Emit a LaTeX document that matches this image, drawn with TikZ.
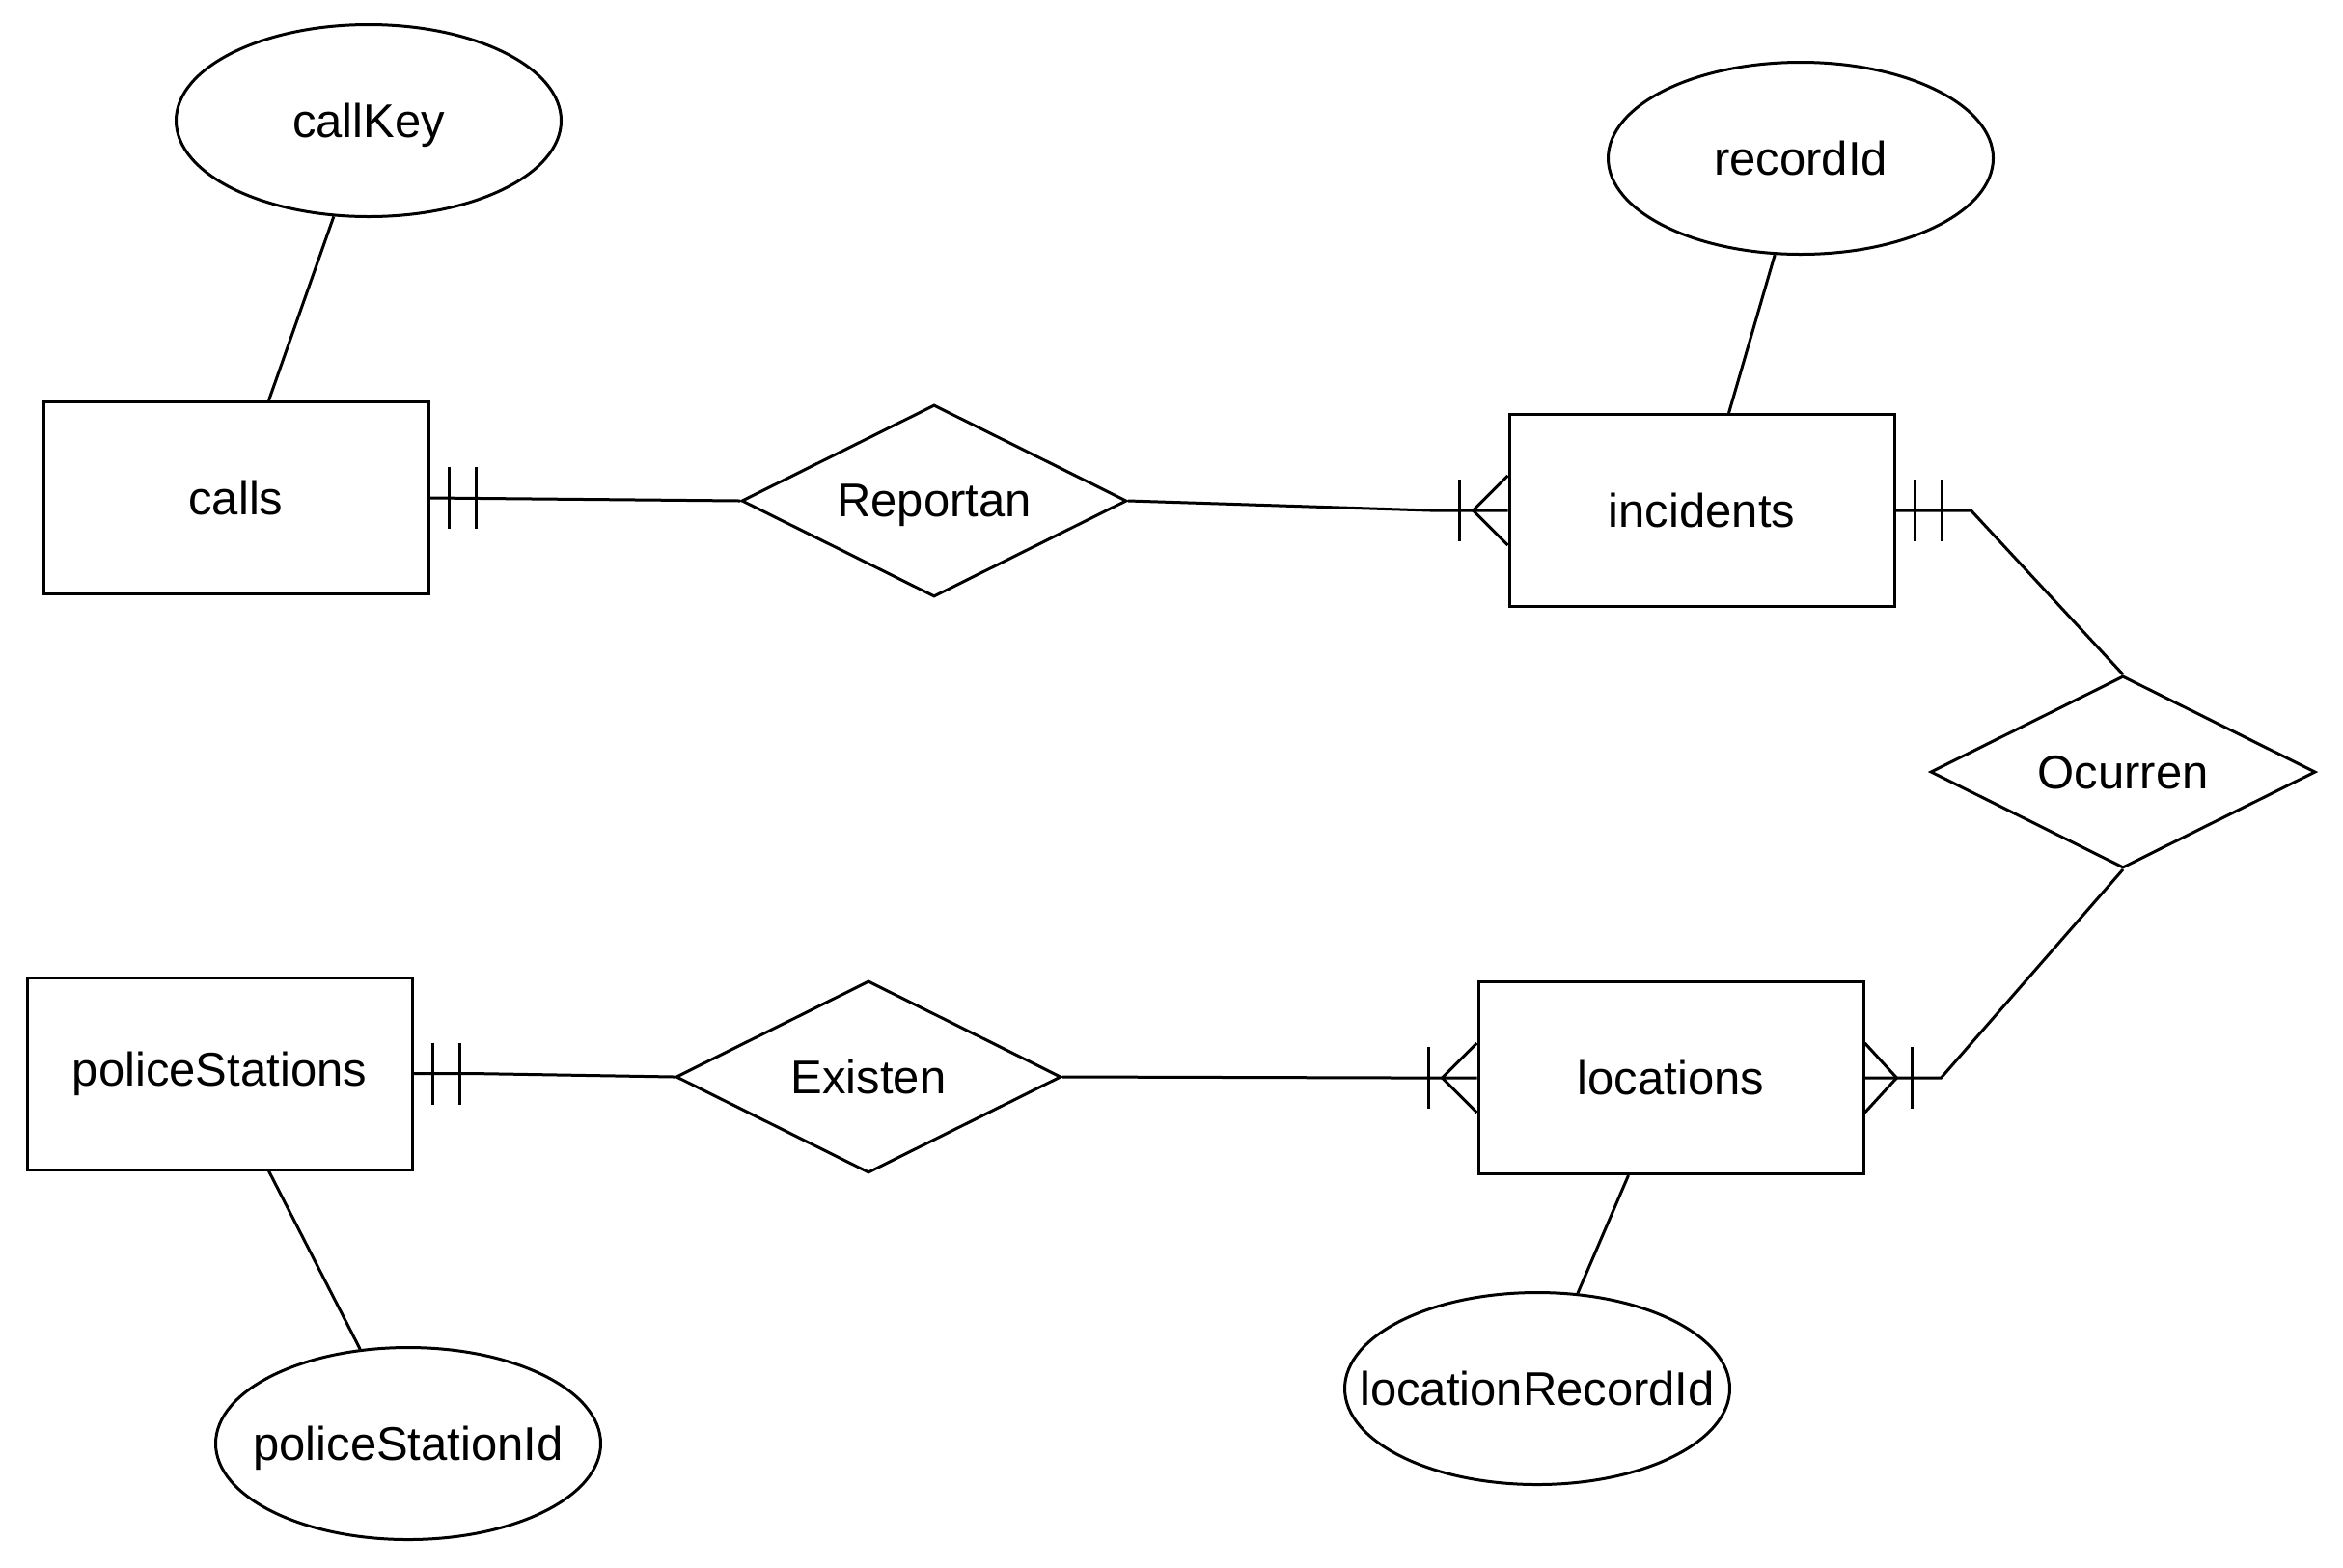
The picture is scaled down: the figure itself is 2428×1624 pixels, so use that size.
\documentclass[tikz,border=0pt]{standalone}
\usepackage{fontspec}
\setmainfont{Liberation Sans}
\usetikzlibrary{shapes.geometric,calc}
\begin{document}
\begin{tikzpicture}[x=0.5pt,y=-0.5pt,line width=1.5pt,
  every node/.style={font=\fontsize{24.5}{29}\selectfont},
  entity/.style={draw,rectangle,minimum width=199.5pt,minimum height=99.5pt,inner sep=0pt},
  attr/.style={draw,ellipse,minimum width=199.5pt,minimum height=99.5pt,inner sep=0pt,text depth=0pt},
  rel/.style={draw,diamond,aspect=2,minimum width=199.5pt,minimum height=99.5pt,inner sep=0pt,text depth=0pt}]
\fill[white] (0,0) rectangle (2428,1624);
\useasboundingbox (0,0) rectangle (2428,1624);

% entities
\node[entity] (calls) at (244.5,516) {calls};
\node[entity] (incidents) at (1763.5,529) {incidents};
\node[entity] (policeStations) at (227.5,1112.5) {policeStations};
\node[entity] (locations) at (1731.5,1117) {locations};

% relationships
\node[rel] (Reportan) at (968,519) {\makebox[0pt]{Reportan}};
\node[rel] (Ocurren) at (2200,800) {\makebox[0pt]{Ocurren}};
\node[rel] (Existen) at (900,1116) {\makebox[0pt]{Existen}};

% attributes (fixed-size ellipses, labels may overhang the inner box)
\node[attr] (callKey) at (382,125) {\makebox[0pt]{callKey}};
\node[attr] (recordId) at (1866,164) {\makebox[0pt]{recordId}};
\node[attr] (policeStationId) at (423,1496) {\makebox[0pt]{policeStationId}};
\node[attr] (locationRecordId) at (1593,1439) {\makebox[0pt]{locationRecordId}};

% attribute links
\draw (callKey.250) -- ($(calls.north)+(34,0)$);
\draw (recordId.255) -- ($(incidents.north)+(28,0)$);
\draw (policeStationId.117) -- ($(policeStations.south)+(51,0)$);
\draw (locationRecordId.67) -- ($(locations.south)+(-44,0)$);

% relationship links
\draw (calls.east) -- (Reportan.west);
\draw (Reportan.east) -- ($(incidents.west)+(-80,0)$) -- (incidents.west);
\draw (incidents.east) -- ($(incidents.east)+(78,0)$) coordinate (incBend) -- (Ocurren.north);
\draw (Ocurren.south) -- ($(locations.east)+(79,0)$) coordinate (locBend) -- (locations.east);
\draw (policeStations.east) -- ($(policeStations.east)+(60,0)$) -- (Existen.west);
\draw (Existen.east) -- ($(locations.west)+(-80,0)$) -- (locations.west);

% exactly-one marks
\foreach \n in {calls,incidents,policeStations}{
  \draw ($(\n.east)+(20,-32)$) -- ($(\n.east)+(20,32)$);
  \draw ($(\n.east)+(48,-32)$) -- ($(\n.east)+(48,32)$);
}

% one-or-many marks
\foreach \n in {incidents,locations}{
  \draw ($(\n.west)+(0,-36)$) -- ($(\n.west)+(-36,0)$) -- ($(\n.west)+(0,36)$);
  \draw ($(\n.west)+(-50,-32)$) -- ($(\n.west)+(-50,32)$);
}
\draw ($(locations.east)+(0,-36)$) -- ($(locations.east)+(33,0)$) -- ($(locations.east)+(0,36)$);
\draw ($(locations.east)+(49,-32)$) -- ($(locations.east)+(49,32)$);
\end{tikzpicture}
\end{document}
